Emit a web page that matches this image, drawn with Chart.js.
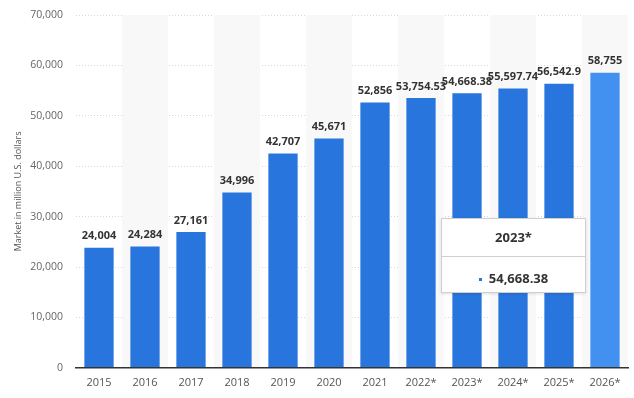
<!DOCTYPE html>
<html>
<head>
<meta charset="utf-8">
<script src="https://cdn.jsdelivr.net/npm/chart.js@4"></script>
<style>
  body { margin: 0; background: #fff; }
  .wrap { position: relative; width: 634px; height: 398px; }
  #tip {
    position: absolute; width: 145px; height: 75px; background: #fff;
    border: 1px solid #cfcfcf; box-shadow: 0 1px 3px rgba(0,0,0,0.12);
    font-family: "Open Sans", sans-serif; font-weight: bold; font-size: 13px; color: #333;
    box-sizing: border-box;
  }
  #tip .head { height: 37px; line-height: 37px; text-align: center; border-bottom: 1px solid #cfcfcf; }
  #tip .body { height: 36px; line-height: 42px; text-align: center; }
  #tip .dot { display: inline-block; width: 3px; height: 3px; background: #2876dd; margin-right: 7px; vertical-align: middle; }
</style>
</head>
<body>
<div class="wrap">
  <canvas id="myChart" width="634" height="398"></canvas>
  <div id="tip"><div class="head"></div><div class="body"><span class="dot"></span><span class="val"></span></div></div>
</div>
<script>
const years = ["2015", "2016", "2017", "2018", "2019", "2020", "2021", "2022*", "2023*", "2024*", "2025*", "2026*"];
const marketValues = [24004, 24284, 27161, 34996, 42707, 45671, 52856, 53754.53, 54668.38, 55597.74, 56542.9, 58755];
const valueLabels = ["24,004", "24,284", "27,161", "34,996", "42,707", "45,671", "52,856", "53,754.53", "54,668.38", "55,597.74", "56,542.9", "58,755"];
const tooltipIndex = 8;

const barColors = marketValues.map((v, i) => (i === marketValues.length - 1 ? "#4290f0" : "#2876dd"));

// alternating light column bands behind the bars
const bandPlugin = {
  id: "bands",
  beforeDatasetsDraw(chart) {
    const { ctx, chartArea, scales } = chart;
    const step = scales.x.width / years.length;
    ctx.save();
    ctx.fillStyle = "#f8f8f8";
    years.forEach((y, i) => {
      if (i % 2 === 1) {
        const cx = scales.x.getPixelForValue(i);
        ctx.fillRect(cx - step / 2, chartArea.top, step, chartArea.bottom - chartArea.top);
      }
    });
    ctx.restore();
  },
};

// value labels above the bars
const labelPlugin = {
  id: "valueLabels",
  afterDatasetsDraw(chart) {
    const { ctx } = chart;
    const meta = chart.getDatasetMeta(0);
    ctx.save();
    ctx.font = "bold 11px 'Open Sans', sans-serif";
    ctx.fillStyle = "#333";
    ctx.textAlign = "center";
    ctx.textBaseline = "bottom";
    meta.data.forEach((bar, i) => {
      ctx.fillText(valueLabels[i], bar.x, bar.y - 5);
    });
    ctx.restore();
  },
};

const chart = new Chart(document.getElementById("myChart"), {
  type: "bar",
  data: {
    labels: years,
    datasets: [
      {
        data: marketValues,
        backgroundColor: barColors,
        borderColor: "rgba(255,255,255,0.35)",
        borderWidth: 1,
        categoryPercentage: 1,
        barPercentage: 0.68,
      },
    ],
  },
  options: {
    responsive: false,
    animation: false,
    layout: { padding: { top: 15, right: 6, bottom: 9, left: 0 } },
    plugins: {
      legend: { display: false },
      tooltip: { enabled: false },
    },
    scales: {
      x: {
        grid: { display: false },
        border: { display: true, color: "#333", width: 1.5, z: 1 },
        ticks: { color: "#555", font: { family: "'Open Sans', sans-serif", size: 11 }, padding: 0, maxRotation: 0 },
      },
      y: {
        min: 0,
        max: 70000,
        afterFit: (scale) => {
          scale.width = 76;
          scale.paddingTop = 0;
        },
        ticks: {
          stepSize: 10000,
          color: "#666",
          padding: 13,
          font: { family: "'Open Sans', sans-serif", size: 10.5 },
          callback: (v) => v.toLocaleString("en-US"),
        },
        grid: { color: "#d9d9d9", drawTicks: false },
        border: { display: false, dash: [1, 2] },
        title: {
          display: true,
          text: "Market in million U.S. dollars",
          color: "#555",
          font: { family: "'Open Sans', sans-serif", size: 9 },
          padding: { top: 13, bottom: 4 },
        },
      },
    },
  },
  plugins: [bandPlugin, labelPlugin],
});

// static tooltip card for the 2023* bar
const bar = chart.getDatasetMeta(0).data[tooltipIndex];
const tip = document.getElementById("tip");
tip.querySelector(".head").textContent = years[tooltipIndex];
tip.querySelector(".val").textContent = valueLabels[tooltipIndex];
tip.style.left = Math.round(bar.x - 26) + "px";
tip.style.top = Math.round(chart.scales.y.getPixelForValue(29700)) + "px";
</script>
</body>
</html>
